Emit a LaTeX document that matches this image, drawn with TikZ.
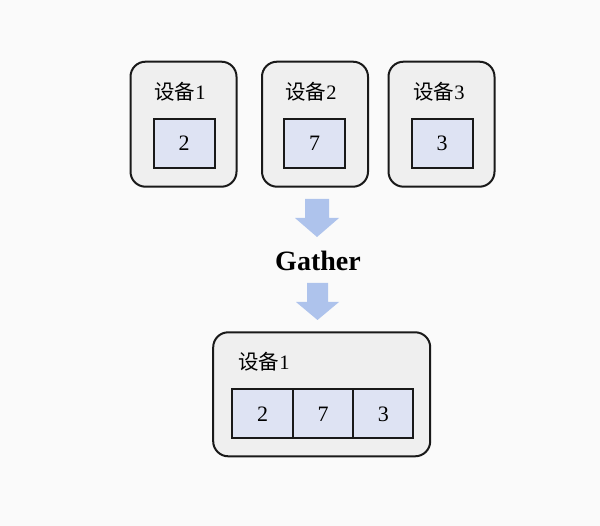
\documentclass[tikz,border=0pt]{standalone}
\usepackage{fontspec}
\setmainfont{Liberation Serif}
\newfontfamily\cjk{Noto Sans CJK SC}
\definecolor{pagebg}{HTML}{FAFAFA}
\definecolor{devfill}{HTML}{EFEFEF}
\definecolor{cellfill}{HTML}{DEE3F3}
\definecolor{arrowfill}{HTML}{AEC3EC}
\begin{document}
\begin{tikzpicture}[x=1pt, y=-1pt,
    device/.style={draw=black!90, line width=2pt, fill=devfill, rounded corners=15pt, inner sep=0pt},
    cell/.style={draw=black!90, line width=2pt, fill=cellfill, minimum width=61pt, minimum height=49pt, inner sep=0pt, font=\fontsize{22}{22}\selectfont},
    devlabel/.style={font=\fontsize{20.5}{20.5}\selectfont, inner sep=0pt}]
    \useasboundingbox[fill=pagebg] (0,0) rectangle (600,526);
    % top row: one value per device
    \node[device, minimum width=106pt, minimum height=125pt] (dev1) at (183.5,124.2) {};
    \node[device, minimum width=106pt, minimum height=125pt] (dev2) at (315,124.2) {};
    \node[device, minimum width=106pt, minimum height=125pt] (dev3) at (441.5,124.2) {};
    \node[devlabel] (lab1) at (180,92) {{\cjk 设备}1};
    \node[devlabel] (lab2) at (311,92) {{\cjk 设备}2};
    \node[devlabel] (lab3) at (439,92) {{\cjk 设备}3};
    \node[cell] (v1) at (184,143.5) {2};
    \node[cell] (v2) at (314.5,143.5) {7};
    \node[cell] (v3) at (442,143.5) {3};
    % gather step
    \node[font=\bfseries\fontsize{28}{28}\selectfont, inner sep=0pt] (gather) at (318,261) {Gather};
    \fill[arrowfill] (305,199) -- (329,199) -- (329,218) -- (339,218) -- (317,237) -- (295,218) -- (305,218) -- cycle;
    \fill[arrowfill] (307,283) -- (328,283) -- (328,302) -- (339,302) -- (317.5,320) -- (296,302) -- (307,302) -- cycle;
    % bottom: all values on device 1
    \node[device, minimum width=217pt, minimum height=124pt] (all) at (321.7,394.3) {};
    \node[devlabel] (laball) at (264,361.5) {{\cjk 设备}1};
    \node[cell, minimum width=60.4pt] (c1) at (262.5,414) {2};
    \node[cell, minimum width=60.6pt] (c2) at (323,414) {7};
    \node[cell, minimum width=60pt] (c3) at (383.3,414) {3};
\end{tikzpicture}
\end{document}
